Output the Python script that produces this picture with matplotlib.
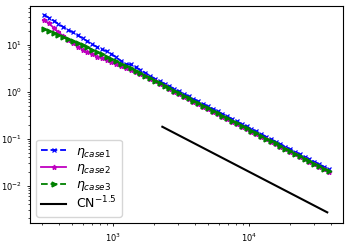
import numpy as np
import matplotlib
matplotlib.use("Agg")
import matplotlib.pyplot as plt

# number of unknowns
N = [310, 336, 365, 396, 430, 466, 506, 549, 596, 646, 701, 761, 826, 896, 972,
     1055, 1145, 1242, 1348, 1463, 1587, 1722, 1869, 2028, 2200, 2388, 2591, 2811,
     3050, 3310, 3592, 3897, 4229, 4589, 4980, 5404, 5864, 6363, 6904, 7492, 8130,
     8822, 9573, 10388, 11272, 12232, 13273, 14403, 15629, 16960, 18404, 19971,
     21671, 23516, 25518, 27691, 30048, 32606, 35382, 38394]

eta_case1 = [44.0, 38.0, 33.0, 28.0, 24.1, 21.1, 18.4, 16.0, 13.8, 11.9, 10.3, 9.0,
             8.0, 7.3, 6.4, 5.4, 4.55, 3.88, 3.83, 3.36, 2.93, 2.54, 2.18, 1.90, 1.68,
             1.49, 1.31, 1.16, 1.02, 0.906, 0.80, 0.708, 0.626, 0.553, 0.490, 0.432,
             0.383, 0.338, 0.299, 0.264, 0.233, 0.207, 0.183, 0.162, 0.143, 0.127,
             0.111, 0.0986, 0.0871, 0.077, 0.0681, 0.0602, 0.0532, 0.0471, 0.0416,
             0.0367, 0.0325, 0.0287, 0.0254, 0.0224]

eta_case2 = [34.1, 28.9, 23.3, 18.6, 15.3, 12.5, 10.7, 9.2, 7.95, 7.04, 6.32, 5.64,
             5.15, 4.65, 4.24, 3.82, 3.48, 3.18, 2.89, 2.6, 2.38, 2.12, 1.87, 1.66,
             1.47, 1.30, 1.14, 1.01, 0.893, 0.791, 0.699, 0.618, 0.546, 0.483, 0.427,
             0.377, 0.334, 0.295, 0.261, 0.230, 0.204, 0.180, 0.159, 0.141, 0.125,
             0.110, 0.097, 0.086, 0.076, 0.0672, 0.0594, 0.0525, 0.0465, 0.0411,
             0.0363, 0.0321, 0.0283, 0.0251, 0.0222, 0.0196]

eta_case3 = [22.0, 19.9, 17.9, 16.2, 14.6, 13.2, 11.9, 10.8, 9.7, 8.8, 7.9, 7.05,
             6.28, 5.6, 4.99, 4.44, 3.96, 3.53, 3.14, 2.8, 2.5, 2.21, 1.95, 1.73,
             1.53, 1.35, 1.19, 1.05, 0.93, 0.824, 0.728, 0.644, 0.569, 0.503, 0.445,
             0.393, 0.348, 0.307, 0.272, 0.240, 0.212, 0.188, 0.166, 0.147, 0.130,
             0.115, 0.101, 0.0896, 0.0792, 0.070, 0.0619, 0.0547, 0.0484, 0.0428,
             0.0378, 0.0334, 0.0295, 0.0261, 0.0231, 0.0204]

# reference slope line
N_ref = [2300, 37500]
ref = [0.18, 0.0027]

fig = plt.figure(figsize=(3.49, 2.44), dpi=100)
ax = fig.add_axes([0.086, 0.086, 0.897, 0.889])

ax.loglog(N, eta_case1, 'b--x', lw=1.3, ms=3.5, mew=0.9, label=r'$\eta_{case1}$')
ax.loglog(N, eta_case2, 'm-*', lw=1.3, ms=3.5, label=r'$\eta_{case2}$')
ax.loglog(N, eta_case3, 'g-->', lw=1.3, ms=3.5, label=r'$\eta_{case3}$')
ax.loglog(N_ref, ref, 'k-', lw=1.5, label=r'CN$^{-1.5}$')

ax.set_xlim(245, 49000)
ax.set_ylim(0.0016, 67)
ax.tick_params(labelsize=6, length=2.5, width=0.6)
ax.tick_params(which='minor', length=1.5, width=0.5)
for s in ax.spines.values():
    s.set_linewidth(0.8)

ax.legend(loc='lower left', fontsize=9, handlelength=2.0, labelspacing=0.15,
          borderaxespad=0.5, handletextpad=0.8)

plt.savefig("out.png", dpi=100)
